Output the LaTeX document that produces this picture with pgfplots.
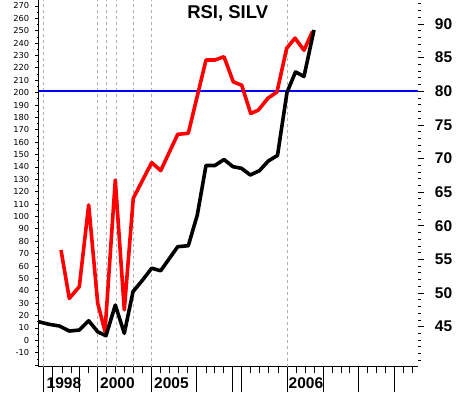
\documentclass[border=0pt]{standalone}
\usepackage{fontspec}
\usepackage{pgfplots}
\pgfplotsset{compat=1.18}
\setmainfont{Liberation Sans}
\newfontfamily\smallsans{DejaVu Sans}
\definecolor{rsired}{RGB}{255,0,0}
\definecolor{refblue}{RGB}{0,0,255}
\definecolor{gridgray}{RGB}{175,175,175}
\begin{document}
\begin{tikzpicture}
\pgfplotsset{
  common/.style={
    scale only axis, width=379.3pt, height=366.7pt,
    xmin=38.7, xmax=418,
    at={(0,0)}, anchor=south west,
    axis line style={-, line width=0.8pt},
    every tick/.style={black, line width=0.8pt},
    tick align=outside,
    /pgf/number format/assume math mode=true,
  }
}
% base axis: bottom ticks, dashed verticals, labels
\begin{axis}[common, name=base,
  ymin=0, ymax=366.7,
  axis x line*=bottom, hide y axis,
  xtick={43.3,52.3,79.7,97.7,151.7,196.7,232.3,241,287.7,323.3,358.3,394.3},
  minor xtick={62.7,71,88.3,106.7,115,124,133.3,142.7,160.7,169.5,178.3,187.3,206.7,214.5,223.3,250,259.5,268.3,278.3,296,305,314,332,341,349.7,367,376,385,403,412},
  xticklabels={},
  major tick length=25.3pt, minor tick length=6pt,
  extra x ticks={43.3,97.3,106.7,116.3,133.3,151.3,287.3},
  extra x tick labels={},
  extra x tick style={grid=major, tick style={draw=none},
    major grid style={gridgray, dash pattern=on 3pt off 3pt, line width=0.8pt}},
  clip=false,
]
\node[font=\bfseries\fontsize{15.5}{16}\selectfont, anchor=base west, inner sep=0pt] at (axis cs:46.5,-21.8) {1998};
\node[font=\bfseries\fontsize{15.5}{16}\selectfont, anchor=base west, inner sep=0pt] at (axis cs:100,-21.8) {2000};
\node[font=\bfseries\fontsize{15.5}{16}\selectfont, anchor=base west, inner sep=0pt] at (axis cs:154,-21.8) {2005};
\node[font=\bfseries\fontsize{15.5}{16}\selectfont, anchor=base west, inner sep=0pt] at (axis cs:288.5,-21.8) {2006};
\node[font=\bfseries\fontsize{18.5}{19}\selectfont, anchor=base, inner sep=0pt] at (axis cs:227.7,348.2) {RSI, SILV};
\end{axis}
% right axis: RSI
\begin{axis}[common,
  ymin=39.05, ymax=93.57,
  axis y line*=right, axis x line=none,
  y axis line style={draw=none},
  ytick={45,50,...,90}, minor ytick={40,41,...,93},
  major tick length=5.7pt, minor tick length=3.3pt,
  yticklabel style={font=\bfseries\fontsize{15.5}{16}\selectfont, inner sep=0pt, xshift=11pt},
]
\addplot[color=refblue, line width=1.7pt, forget plot] table {
x y
38.7 80
418 80
};
\addplot[rsired, line width=3.6pt, line join=round] coordinates {
(61,56.4) (69.3,49.2) (79.3,50.95) (88.7,63.1) (97.7,48.5) (105,44.3) (115.3,66.8) (124.3,47.5) (133.3,64.1) (151.7,69.4) (160.7,68.2) (177.7,73.6) (188.3,73.75) (206,84.65) (215,84.65) (224,85.14) (233.3,81.4) (241.7,80.9) (250.7,76.7) (258.3,77.2) (267.8,78.95) (277,79.9) (286.7,86.4) (295,87.9) (304,86.1) (312.5,88.9)
};
\end{axis}
% left axis: SILV
\begin{axis}[common,
  ymin=-21.3, ymax=274.8,
  axis y line*=left, axis x line=none,
  ytick={-10,0,...,270}, minor ytick={-15,-5,...,265},
  extra y ticks={-20}, extra y tick labels={},
  major tick length=3.7pt, minor tick length=2pt,
  yticklabel style={font=\smallsans\fontsize{8.3}{9}\selectfont, inner sep=0pt, xshift=-5.7pt},
]
\addplot[black, line width=3.6pt, line join=round] coordinates {
(38.7,15.0) (49.3,12.9) (59.3,11.6) (69.3,7.5) (79.3,8.3) (88.7,15.8) (97.7,6.9) (106,3.7) (115.3,28.5) (124.3,5.7) (133,39.3) (142,48.1) (151.7,58.2) (160.7,56.2) (169.2,65.9) (177.7,75.6) (188.3,76.4) (197.3,101.2) (206,141.2) (215,141.2) (224,146.0) (233,140.2) (241.5,138.9) (250.3,133.5) (259.5,137.0) (268.3,144.8) (277.5,149.3) (287,200.2) (295.5,216.7) (304,213.1) (314,250.6)
};
\end{axis}
\pgfresetboundingbox
\path[use as bounding box] (base.south west) ++(-38.7pt,-25.3pt) rectangle ++(456pt,392pt);
\end{tikzpicture}
\end{document}
